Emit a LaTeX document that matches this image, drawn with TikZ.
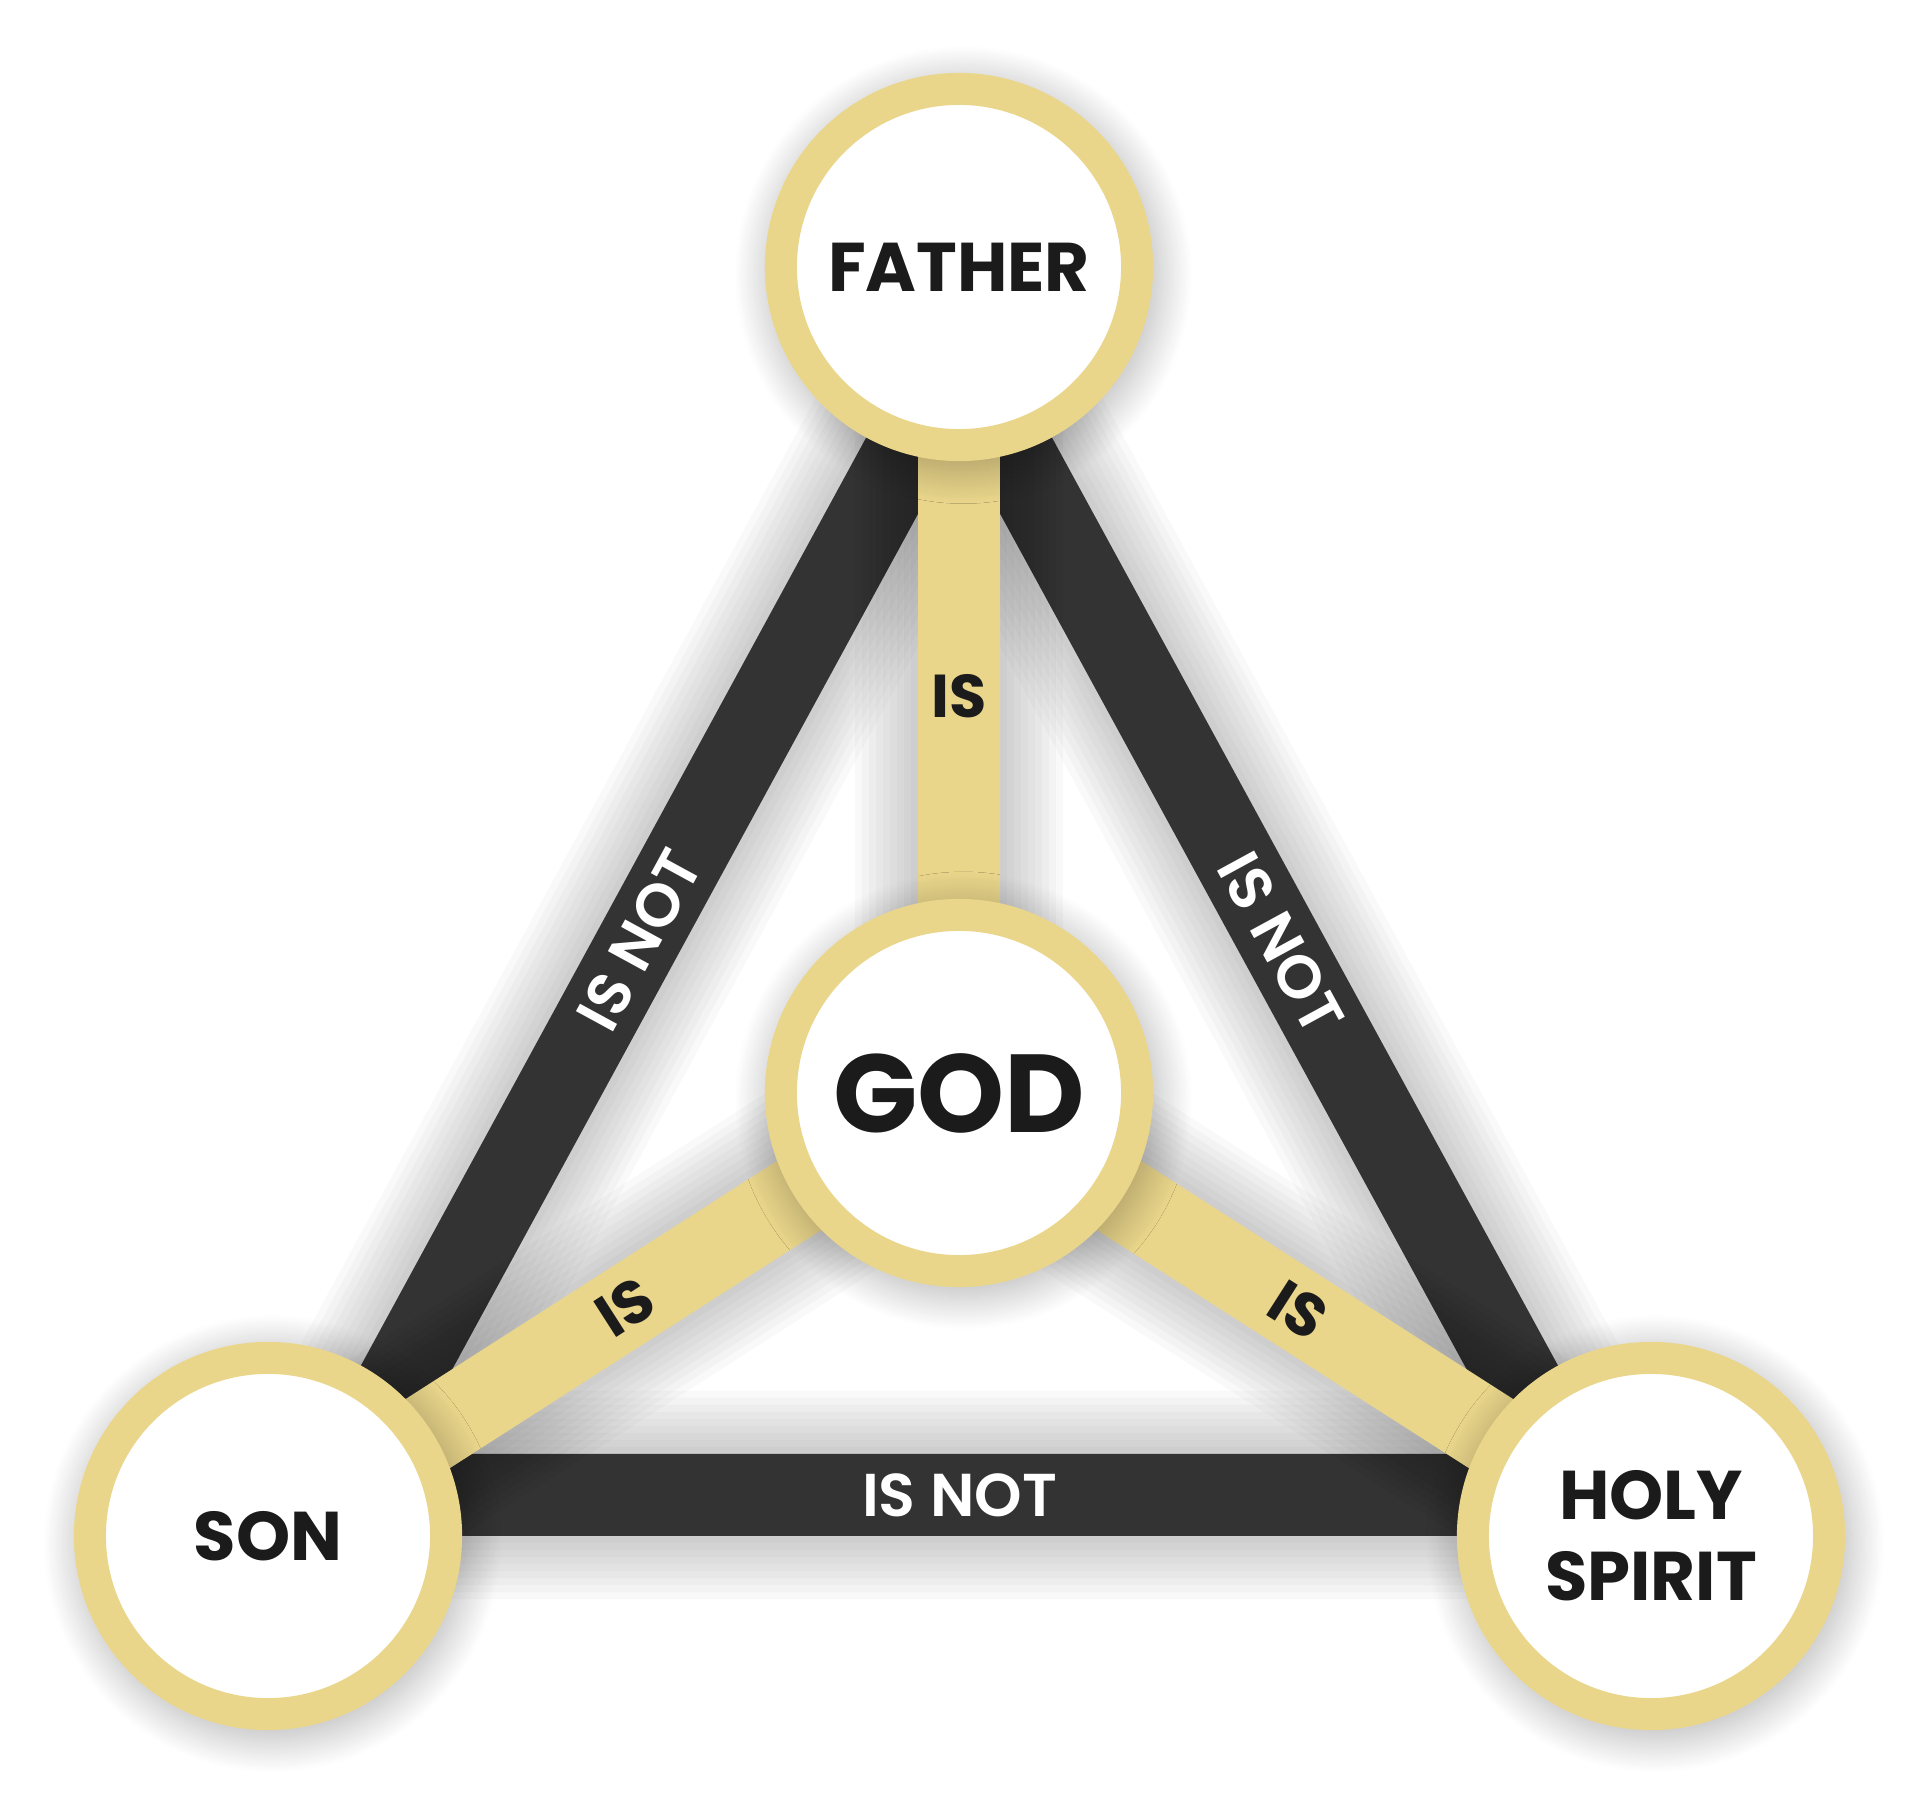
\documentclass[tikz,border=0pt]{standalone}
\usepackage{fontspec}
\setmainfont{Poppins}
\newfontfamily\medfont{Poppins SemiBold}
\usetikzlibrary{calc,backgrounds,shadows.blur}

\definecolor{gold}{HTML}{EAD68B}
\definecolor{bar}{HTML}{333333}
\definecolor{ink}{HTML}{1B1B1B}

\begin{document}
\begin{tikzpicture}[x=0.01cm,y=-0.01cm,
  person/.style={circle, draw=gold, line width=0.32cm, fill=white,
                 minimum size=3.56cm, inner sep=0pt, align=center, text=ink,
                 font=\bfseries\fontsize{19.6}{23}\selectfont,
                 blur shadow={shadow xshift=0.04cm, shadow yshift=-0.07cm,
                   shadow blur radius=0.3cm, shadow blur steps=30,
                   shadow opacity=28, shadow scale=1.1}},
  darkbar/.style={draw=bar, line width=0.82cm, line join=miter},
  isbar/.style={draw=gold, line width=0.82cm},
  barshadow/.style={draw=black, opacity=0.025, shift={(4,7)}},
  islabel/.style={text=ink, inner sep=0pt,
                  font=\bfseries\fontsize{17.2}{20}\selectfont},
  notlabel/.style={sloped, text=white, inner sep=0pt,
                   font=\medfont\fontsize{17.2}{20}\selectfont}]
\useasboundingbox (0,0) rectangle (1920,1806);

% the four circles
\node[person] (father) at (959,267) {FATHER};
\node[person] (son) at (268,1536) {SON};
\node[person] (spirit) at (1651,1536) {HOLY\\SPIRIT};
\node[person, font=\bfseries\fontsize{31.5}{36}\selectfont] (god) at (959,1093) {GOD};

% corners of the dark triangle, pulled in towards the middle
\coordinate (mid) at (959.3,1125.3);
\coordinate (f1) at ($(mid)!0.9!(father.center)$);
\coordinate (s1) at ($(mid)!0.9!(son.center)$);
\coordinate (h1) at ($(mid)!0.9!(spirit.center)$);

\begin{scope}[on background layer]
\foreach \w in {0,4,...,36}
  \draw[barshadow, line width={(23.3+\w)*1pt}] (f1) -- (s1) -- (h1) -- cycle;
\draw[darkbar] (f1) -- (s1) -- (h1) -- cycle;
\foreach \n in {father,son,spirit}{
  \foreach \w in {0,4,...,36}
    \draw[barshadow, line width={(23.3+\w)*1pt}] (god.center) -- (\n.center);
}
\draw[isbar] (father.center) -- node[islabel, pos=.52] (isf) {IS} (god.center);
\draw[isbar] (son.center) -- node[islabel, sloped, pos=.517] (iss) {IS} (god.center);
\draw[isbar] (spirit.center) -- node[islabel, sloped, pos=.51] (ish) {IS} (god.center);
\end{scope}

% labels on the dark bars
\path (s1) -- node[notlabel, pos=.486] (notfs) {IS NOT} (f1);
\path (f1) -- node[notlabel, pos=.517] (notfh) {IS NOT} (h1);
\path (s1) -- node[notlabel] (notsh) {IS NOT} (h1);
\end{tikzpicture}
\end{document}
